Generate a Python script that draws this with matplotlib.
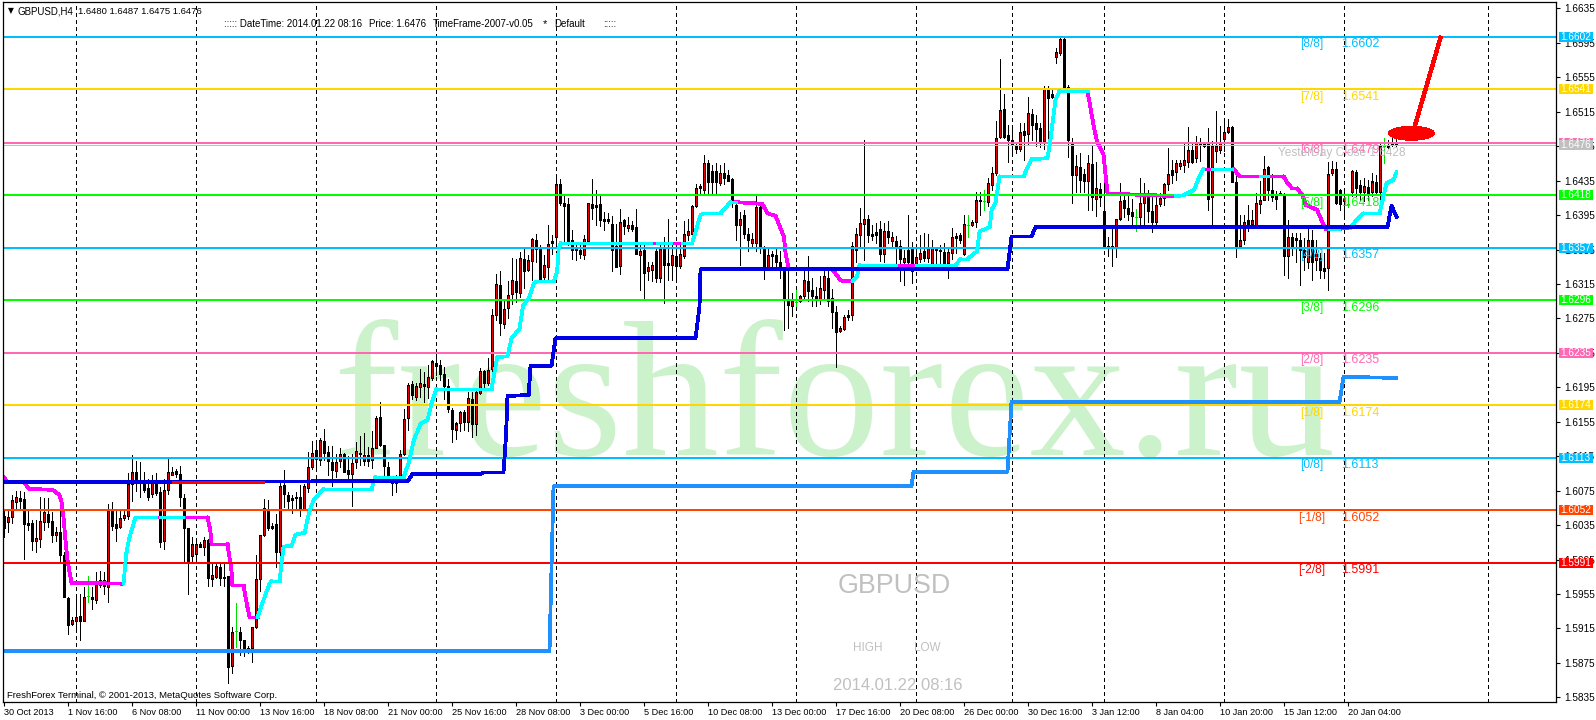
import numpy as np
import matplotlib as mpl
mpl.use('Agg')
import matplotlib.pyplot as plt
from matplotlib.patches import Ellipse, Rectangle

plt.rcParams['font.family'] = ['Liberation Sans', 'DejaVu Sans']

# prices in 1/10000, one value per H4 bar
opens = [16045,16039,16044,16062,16067,16065,16037,16038,16017,16019,
16039,16048,16040,16023,16027,16000,15950,15920,15924,15930,
15924,15953,15952,15948,15965,15971,15963,16051,16036,16033,
16043,16045,16083,16097,16087,16087,16078,16071,16084,16073,
16017,16076,16093,16098,16094,16067,16032,15999,16001,16013,
16010,16018,15973,15975,15986,15975,15976,15871,15912,15911,
15902,15892,15892,15917,15972,16023,16054,16032,16036,16004,
16081,16070,16064,16068,16068,16053,16078,16102,16122,16111,
16133,16120,16108,16098,16109,16118,16099,16094,16108,16119,
16110,16116,16111,16125,16160,16128,16103,16087,16084,16088,
16117,16159,16199,16184,16195,16199,16195,16206,16223,16221,
16211,16196,16169,16146,16154,16166,16155,16182,16152,16188,
16214,16200,16216,16279,16314,16268,16287,16303,16319,16305,
16344,16331,16342,16366,16356,16323,16335,16365,16369,16431,
16409,16408,16366,16355,16355,16349,16365,16408,16404,16408,
16390,16390,16385,16359,16336,16389,16380,16384,16381,16349,
16354,16330,16331,16353,16322,16357,16339,16337,16348,16336,
16347,16372,16373,16405,16429,16424,16456,16446,16446,16432,
16444,16441,16437,16407,16384,16395,16373,16363,16362,16404,
16358,16335,16350,16349,16341,16331,16296,16289,16294,16295,
16301,16318,16308,16301,16297,16308,16322,16299,16283,16260,
16263,16279,16279,16355,16372,16385,16390,16373,16375,16379,
16350,16376,16365,16365,16359,16341,16355,16357,16335,16344,
16353,16345,16337,16356,16355,16352,16339,16351,16368,16372,
16350,16384,16384,16387,16412,16411,16410,16430,16444,16486,
16518,16488,16482,16476,16472,16493,16489,16512,16502,16496,
16481,16540,16532,16578,16583,16600,16544,16478,16442,16451,
16443,16434,16454,16414,16425,16400,16359,16359,16358,16391,
16413,16403,16398,16393,16393,16409,16418,16400,16387,16408,
16415,16431,16447,16445,16452,16453,16457,16471,16461,16478,
16478,16478,16416,16469,16471,16483,16492,16497,16433,16359,
16366,16389,16385,16384,16408,16413,16451,16424,16418,16421,
16420,16347,16369,16368,16366,16354,16341,16366,16343,16345,
16333,16333,16444,16448,16424,16411,16408,16422,16445,16430,
16422,16428,16422,16433,16422,16475,16475,16479,16480]
highs = [16052,16054,16070,16075,16075,16073,16052,16041,16041,16068,
16066,16066,16050,16033,16068,16004,15952,15928,15952,15955,
15963,15976,15963,15981,15982,15981,16060,16062,16054,16052,
16052,16095,16116,16109,16108,16097,16089,16093,16095,16079,
16089,16112,16102,16100,16104,16071,16032,16021,16017,16015,
16021,16019,15990,15990,15990,15990,15976,15917,15944,15917,
15902,15895,15917,16000,16024,16065,16064,16037,16048,16087,
16099,16073,16070,16073,16081,16083,16120,16133,16130,16136,
16147,16127,16127,16118,16124,16119,16115,16118,16132,16138,
16142,16126,16144,16162,16178,16128,16108,16092,16093,16122,
16170,16200,16202,16200,16216,16213,16221,16227,16235,16227,
16219,16205,16171,16155,16168,16169,16190,16190,16192,16217,
16215,16229,16286,16327,16330,16296,16319,16345,16344,16352,
16357,16349,16368,16373,16360,16349,16383,16372,16441,16437,
16420,16415,16378,16360,16360,16372,16409,16437,16424,16418,
16399,16397,16394,16385,16402,16390,16393,16388,16402,16360,
16364,16341,16341,16358,16360,16369,16391,16360,16364,16364,
16388,16391,16407,16431,16431,16465,16459,16453,16455,16453,
16456,16447,16438,16410,16399,16401,16380,16374,16417,16407,
16359,16358,16353,16358,16353,16333,16334,16304,16308,16302,
16335,16348,16322,16312,16324,16333,16331,16309,16289,16266,
16279,16285,16364,16380,16403,16482,16395,16384,16386,16388,
16386,16388,16375,16371,16366,16355,16395,16364,16360,16372,
16374,16373,16366,16358,16360,16362,16358,16380,16374,16374,
16395,16395,16389,16422,16422,16424,16438,16451,16504,16576,
16536,16500,16498,16480,16502,16502,16532,16518,16511,16502,
16545,16545,16540,16589,16601,16601,16546,16485,16465,16467,
16449,16465,16475,16457,16432,16451,16370,16380,16391,16432,
16420,16418,16414,16402,16438,16432,16424,16416,16418,16421,
16432,16473,16459,16459,16459,16480,16497,16480,16487,16485,
16480,16496,16481,16516,16498,16507,16507,16498,16443,16395,
16395,16407,16401,16421,16434,16464,16452,16443,16423,16423,
16421,16389,16374,16374,16374,16368,16382,16378,16366,16351,
16351,16457,16458,16457,16425,16424,16418,16447,16447,16436,
16438,16436,16444,16442,16479,16484,16482,16488,16487]
lows = [16021,16027,16037,16052,16053,15996,16029,16006,16004,16009,
16029,16033,16015,16017,15992,15951,15908,15919,15913,15902,
15924,15946,15938,15944,15963,15955,15946,16029,16017,16032,
16041,16042,16063,16075,16068,16073,16064,16068,16070,16009,
16007,16071,16093,16091,16057,15993,15955,15992,15991,16010,
16000,15964,15964,15974,15966,15964,15852,15863,15894,15884,
15883,15886,15876,15915,15959,16022,16029,16031,15986,15986,
16056,16054,16049,16052,16046,16052,16073,16100,16102,16105,
16111,16093,16080,16091,16103,16097,16088,16057,16101,16105,
16105,16104,16101,16124,16127,16093,16086,16070,16074,16087,
16116,16145,16182,16180,16184,16178,16183,16204,16209,16204,
16182,16166,16132,16135,16144,16146,16144,16137,16140,16187,
16195,16198,16207,16273,16256,16264,16276,16292,16294,16300,
16310,16330,16320,16341,16317,16318,16321,16350,16363,16407,
16362,16360,16344,16343,16345,16344,16363,16390,16384,16382,
16378,16386,16330,16335,16326,16373,16376,16376,16350,16308,
16299,16320,16318,16317,16317,16293,16320,16320,16320,16334,
16345,16366,16372,16404,16419,16420,16421,16420,16420,16430,
16431,16434,16404,16366,16337,16368,16353,16358,16353,16351,
16321,16331,16333,16332,16322,16262,16264,16278,16289,16294,
16297,16295,16289,16289,16292,16297,16289,16264,16219,16259,
16262,16273,16273,16341,16359,16343,16364,16366,16362,16342,
16341,16362,16359,16339,16318,16314,16331,16316,16333,16341,
16342,16341,16333,16336,16335,16333,16322,16344,16351,16363,
16349,16369,16382,16381,16395,16401,16405,16424,16441,16484,
16484,16457,16465,16467,16469,16459,16478,16482,16475,16474,
16472,16472,16531,16571,16581,16540,16463,16409,16422,16422,
16422,16401,16401,16394,16405,16358,16347,16336,16346,16389,
16393,16389,16385,16376,16382,16382,16387,16375,16385,16405,
16407,16424,16432,16436,16449,16445,16451,16455,16457,16458,
16474,16401,16382,16457,16467,16469,16490,16433,16346,16358,
16361,16376,16382,16382,16397,16412,16413,16411,16402,16419,
16325,16322,16349,16340,16314,16331,16333,16320,16331,16322,
16322,16308,16442,16408,16401,16395,16404,16417,16417,16413,
16411,16413,16417,16419,16405,16456,16473,16475,16475]
closes = [16032,16044,16064,16068,16063,16036,16035,16017,16020,16040,
16050,16039,16023,16027,16000,15952,15919,15925,15928,15924,
15952,15953,15949,15966,15971,15964,16051,16034,16032,16043,
16047,16083,16097,16084,16085,16076,16068,16084,16072,16015,
16076,16097,16097,16094,16068,16032,15992,16013,16013,16010,
16018,15974,15977,15987,15974,15974,15870,15911,15912,15902,
15892,15891,15917,15973,16024,16055,16032,16034,16004,16080,
16071,16063,16067,16066,16053,16080,16102,16119,16112,16134,
16119,16109,16099,16108,16118,16097,16094,16107,16121,16118,
16116,16109,16125,16159,16128,16104,16092,16084,16091,16118,
16158,16198,16186,16197,16200,16196,16207,16225,16220,16210,
16196,16170,16147,16153,16166,16155,16183,16152,16190,16214,
16200,16215,16279,16315,16270,16286,16302,16320,16306,16345,
16330,16343,16367,16356,16321,16337,16361,16362,16431,16409,
16406,16365,16355,16354,16350,16367,16409,16403,16407,16389,
16388,16388,16355,16335,16387,16382,16384,16379,16350,16353,
16328,16335,16337,16322,16356,16337,16337,16349,16336,16350,
16373,16376,16405,16427,16427,16456,16433,16433,16433,16444,
16438,16435,16410,16383,16391,16373,16366,16367,16404,16359,
16335,16349,16347,16341,16335,16296,16290,16295,16294,16301,
16320,16307,16301,16297,16310,16324,16295,16283,16259,16264,
16277,16277,16359,16373,16386,16390,16372,16371,16372,16350,
16376,16370,16370,16359,16344,16345,16341,16330,16346,16351,
16345,16358,16357,16354,16353,16338,16352,16369,16371,16366,
16385,16384,16387,16412,16411,16411,16432,16444,16485,16517,
16486,16482,16478,16472,16492,16488,16513,16500,16495,16481,
16542,16531,16535,16584,16600,16544,16482,16442,16452,16436,
16435,16455,16416,16426,16416,16359,16358,16358,16390,16411,
16403,16396,16394,16393,16409,16418,16400,16387,16407,16415,
16431,16443,16442,16456,16455,16459,16471,16457,16479,16476,
16475,16414,16475,16475,16480,16492,16497,16433,16359,16366,
16387,16385,16389,16409,16413,16449,16424,16416,16414,16420,
16348,16370,16358,16366,16354,16346,16366,16341,16351,16331,
16330,16443,16449,16409,16408,16415,16408,16446,16427,16422,
16429,16421,16434,16422,16475,16475,16474,16477,16476]

# cyan / magenta trend line: vertices and colour of the piece that starts there
trend_bars = [0,1,5,6.5,12.3,14,14.5,15,15.5,16,17,30,30.7,31.4,33,38,39,44.8,51,51.7,52,56,57,57.2,60,60.8,61.5,63.5,
65,66.5,67,69,70,72,73,75.3,76.3,77.5,80,92,93,100,101.3,102.6,104.3,106,107,108.2,122,122.7,123.4,126,127,129,129.9,
131.3,132.6,133.4,137.6,138.4,138.8,139.3,161.75,163.4,166.75,169.7,172.2,174.25,175,179.25,181.75,183,186.75,189.7,
191,193,195.1,195.5,196.3,207.2,209.3,212.2,213.4,214,223,228,238,239.25,241,243.4,244,246.6,247,248,249,255,257,261,
261.6,263,264,271,272.6,273.4,275,276,293,295,297.6,299,300,302,307,307.5,309,314,316,320,321,322.2,323.4,324.7,325.5,
328.4,329.7,330.5,331.3,333.8,336.75,338,340,344,345,345.75,347.5,348.25]
trend_vals = [16091,16085,16085,16077,16076,16070,16062,16044,16017,15994,15968,15967,16002,16019,16044,16044,16044,16044,
16044,16029,16013,16013,15982,15965,15965,15944,15928,15928,
15948,15967,15970,15970,16010,16011,16024,16026,16048,16064,16077,16077,16091,16091,16107,16134,16153,16157,16176,16193,
16193,16211,16230,16231,16252,16263,16290,16298,16316,16318,16318,16329,16356,16363,16363,16363,16363,16363,16363,16395,
16397,16397,16410,16410,16409,16408,16397,16394,16370,16351,16332,16332,16319,16318,16324,16337,16337,16337,16337,16344,
16344,16353,16376,16381,16401,16409,16440,16440,16460,16461,16478,16529,16539,16539,16497,16480,16465,16420,16417,16418,
16424,16440,16449,16449,16449,16449,16440,16440,16440,16440,16432,16426,16426,16418,16407,16401,16387,16379,16379,16379,
16380,16388,16397,16397,16417,16432,16436,16445]
magenta_runs = [(0,30),(38,39),(44.8,63.5),(161.75,163.4),(166.75,169.7),(183,212.2),(223,228),(271,293),(300,302),
                (307,314),(316,331.3),(333.8,336.75)]

blue_bars = [0,101,102.2,119.2,120,125,125.5,125.75,126,131.3,131.75,137,138,173,174,174.25,251,252,257,258,346,347,348.25]
blue_vals = [16085,16086,16094,16094,16096,16096,16130,16153,16185,16186,16220,16220,16252,16252,16289,16332,16332,16370,
             16370,16381,16381,16406,16393]
red_run = [42,65]

dodger_bars = [0,136.5,137.5,227,227.5,251,252,334,335,348.25]
dodger_vals = [15889,15889,16080,16080,16097,16097,16178,16178,16207,16206]

level_names = ['[8/8]','[7/8]','[6/8]','[5/8]','[4/8]','[3/8]','[2/8]','[1/8]','[0/8]','[-1/8]','[-2/8]']
level_prices = [1.6602,1.6541,1.6479,1.6418,1.6357,1.6296,1.6235,1.6174,1.6113,1.6052,1.5991]
level_colors = ['#00bfff','#ffd700','#ff69b4','#00ff00','#00bfff','#00ff00','#ff69b4','#ffd700','#00bfff','#ff4500','#ff0000']

day_lines = [18,48,78,108,138,168,198,228,252,275,305,335,371]
time_labels = ['30 Oct 2013','1 Nov 16:00','6 Nov 08:00','11 Nov 00:00','13 Nov 16:00','18 Nov 08:00','21 Nov 00:00',
               '25 Nov 16:00','28 Nov 08:00','3 Dec 00:00','5 Dec 16:00','10 Dec 08:00','13 Dec 00:00','17 Dec 16:00',
               '20 Dec 08:00','26 Dec 00:00','30 Dec 16:00','3 Jan 12:00','8 Jan 04:00','10 Jan 20:00','15 Jan 12:00',
               '20 Jan 04:00']
price_ticks = [1.6635,1.6595,1.6555,1.6515,1.6475,1.6435,1.6395,1.6355,1.6315,1.6275,1.6235,1.6195,1.6155,1.6115,
               1.6075,1.6035,1.5995,1.5955,1.5915,1.5875,1.5835]

W, H = 1596, 720
PX = 0.72  # one pixel in points
fig = plt.figure(figsize=(W / 100, H / 100), dpi=100)
ax = fig.add_axes([3 / W, 1 - 702 / H, 1553 / W, 700 / H])
ax.set_xlim(-0.125, 388.125)
ax.set_ylim(1.58296, 1.66424)


def figtext(px, py, s, **kw):
    fig.text(px / W, 1 - py / H, s, **kw)


# watermark under everything
ax.text(333 / W, 1 - 455 / H, 'freshforex.ru', transform=fig.transFigure, family='Liberation Serif',
        fontsize=139, color='#ccf2cc', va='baseline', ha='left', zorder=0)

ax.vlines(day_lines, 1.58296, 1.66424, color='black', lw=PX, linestyles=(0, (4, 3)), zorder=1, antialiased=False)

# candles
o = np.array(opens) / 1e4
h = np.array(highs) / 1e4
l = np.array(lows) / 1e4
c = np.array(closes) / 1e4
bars = np.arange(len(o))
up = c > o
doji = c == o
top = np.maximum(o, c)
bot = np.minimum(o, c)
body_top = np.maximum(top, bot + 0.00012)
ax.vlines(bars[~doji], l[~doji], h[~doji], color='black', lw=PX, zorder=2, antialiased=False, capstyle='butt')
ax.vlines(bars[doji], l[doji], h[doji], color='#00e000', lw=PX, zorder=2, antialiased=False, capstyle='butt')
ax.hlines(o[doji], bars[doji] - 0.25, bars[doji] + 0.25, color='#00e000', lw=PX, zorder=2, antialiased=False)
ax.vlines(bars[~doji], bot[~doji], body_top[~doji], color='black', lw=3 * PX, zorder=3, antialiased=False, capstyle='butt')
ax.vlines(bars[up], bot[up] + 0.00012, top[up] - 0.00012, color='#e00000', lw=PX, zorder=3.1, antialiased=False,
          capstyle='butt')

# trend line
tb = np.array(trend_bars)
tv = np.array(trend_vals) / 1e4
for i in range(len(tb) - 1):
    mid = (tb[i] + tb[i + 1]) / 2
    is_m = any(a <= mid <= b for a, b in magenta_runs)
    ax.plot(tb[i:i + 2], tv[i:i + 2], color='#ff00ff' if is_m else '#00ffff', lw=2.0,
            solid_capstyle='round', zorder=3.6 if is_m else 5, antialiased=False)

# Murrey levels
for name, price, col in zip(level_names, level_prices, level_colors):
    ax.axhline(price, color=col, lw=2 * PX, zorder=4)
    ax.annotate(name, xy=(327, price), xytext=(0, -5.3), textcoords='offset points', color=col, fontsize=8.6,
                ha='center', va='center', zorder=4.5)
    ax.annotate('%.4f' % price, xy=(334.4, price), xytext=(0, -5.3), textcoords='offset points', color=col,
                fontsize=9, ha='left', va='center', zorder=4.5)
    ax.add_patch(Rectangle((1.002, price - 0.00058), 34 / 1553, 0.00116, transform=ax.get_yaxis_transform(),
                           facecolor=col, lw=0, clip_on=False, zorder=6))
    ax.text(1.0027, price, '%.4f' % price, transform=ax.get_yaxis_transform(), color='white', fontsize=7.2,
            ha='left', va='center', zorder=6.05, clip_on=False)

# current price
ax.axhline(1.6476, color='#c0c0c0', lw=PX, zorder=3.9, antialiased=False)
ax.add_patch(Rectangle((1.002, 1.6476 - 0.00058), 34 / 1553, 0.00116, transform=ax.get_yaxis_transform(),
                       facecolor='#c0c0c0', lw=0, clip_on=False, zorder=6.1))
ax.text(1.0027, 1.6476, '1.6476', transform=ax.get_yaxis_transform(), color='white', fontsize=7.2, ha='left',
        va='center', zorder=7, clip_on=False)

# higher timeframe lines
ax.plot(blue_bars, np.array(blue_vals) / 1e4, color='#0000e6', lw=2.0, zorder=5.1, antialiased=False,
        solid_joinstyle='round')
ax.plot(red_run, [1.6085, 1.6085], color='#ff0000', lw=2.0, zorder=5.2, antialiased=False, solid_capstyle='butt')
ax.plot(dodger_bars, np.array(dodger_vals) / 1e4, color='#1e90ff', lw=2.0, zorder=5.1, antialiased=False)

# hand drawn arrow with blob
ax.plot([352.75, 359.25], [1.6497, 1.6601], color='#ff0000', lw=2.4, zorder=5.5, antialiased=False)
ax.add_patch(Ellipse((352, 1.6490), 11.5, 0.00165, facecolor='#ff0000', lw=0, zorder=5.5, antialiased=False))

# text on chart
ax.annotate('YesterDay Close 1.6428', xy=(318.75, 1.6476), xytext=(0, -5.2), textcoords='offset points', color='#c0c0c0',
            fontsize=8.6, ha='left', va='center', zorder=5.6)

# axes
for s in ax.spines.values():
    s.set_color('black')
    s.set_linewidth(0.9)
    s.set_zorder(8)
ax.yaxis.tick_right()
ax.set_yticks(price_ticks)
ax.set_yticklabels(['%.4f' % p for p in price_ticks])
ax.set_xticks(np.arange(len(time_labels)) * 16)
ax.set_xticklabels(time_labels, ha='left')
ax.tick_params(axis='y', length=3, width=0.8, pad=3, labelsize=7.2)
ax.tick_params(axis='x', length=3, width=0.8, pad=1.5, labelsize=6.6)

figtext(7.5, 11, '\u25bc', fontsize=5.5, va='center', family='DejaVu Sans')
figtext(17.5, 11, 'GBPUSD,H4', fontsize=7, va='center')
figtext(78.5, 11, '1.6480 1.6487 1.6475 1.6476', fontsize=6.8, va='center')
figtext(224, 24, '::::: DateTime: 2014.01.22 08:16', fontsize=7, va='center')
figtext(369, 24, 'Price: 1.6476', fontsize=7, va='center')
figtext(433, 24, 'TimeFrame-2007-v0.05', fontsize=7, va='center')
figtext(543, 24, '*', fontsize=8, va='center')
figtext(554, 24, 'Default', fontsize=7, va='center')
figtext(603, 24, ':::::', fontsize=7, va='center')
figtext(7, 695, 'FreshForex Terminal, \u00a9 2001-2013, MetaQuotes Software Corp.', fontsize=6.8, va='center', zorder=9)

figtext(838, 586, 'GBPUSD', fontsize=19.3, color='#c0c0c0', va='center')
figtext(853, 648, 'HIGH', fontsize=8.5, color='#c0c0c0', va='center')
figtext(914, 648, 'LOW', fontsize=8.5, color='#c0c0c0', va='center')
figtext(833, 685, '2014.01.22 08:16', fontsize=12, color='#c0c0c0', va='center')

fig.savefig('out.png', dpi=100, facecolor='white')
